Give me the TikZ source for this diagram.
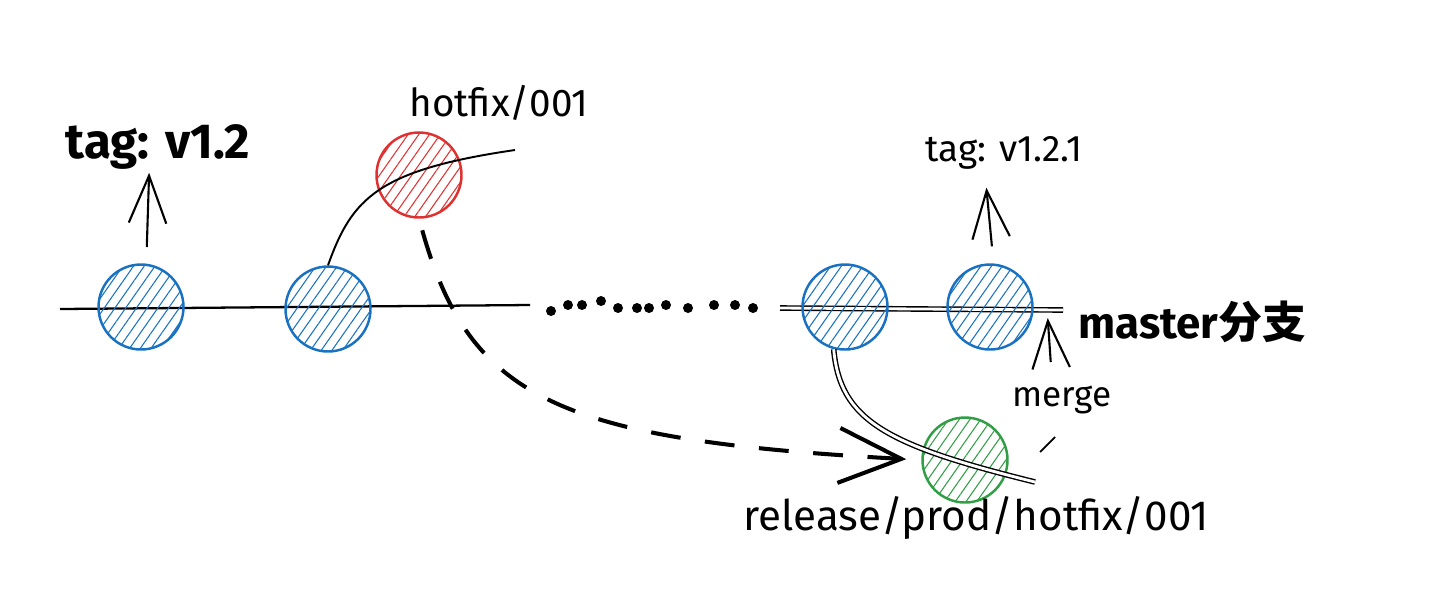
\documentclass[tikz,border=0pt]{standalone}
\usepackage{fontspec}
\setmainfont{Fira Sans}
\newfontfamily\cjkfont{Noto Sans CJK SC}
\usetikzlibrary{positioning,patterns.meta,arrows.meta}
\definecolor{commitblue}{HTML}{1971C2}
\definecolor{hotfixred}{HTML}{E03131}
\definecolor{mergegreen}{HTML}{2F9E44}
\tikzset{
    commit/.style={circle, draw=#1, line width=1.4pt, minimum size=1.7cm, inner sep=0pt,
        pattern={Lines[angle=55,distance=5pt,line width=0.6pt]}, pattern color=#1},
    branch/.style={line width=1.3pt},
    twin/.style={double, line width=0.8pt, double distance=1.6pt},
    tagarrow/.style={-{Straight Barb[length=0.95cm,width=0.75cm]}, line width=1.2pt},
    label/.style={inner sep=0pt, font=\fontsize{#1}{#1}\selectfont}
}
\begin{document}
\begin{tikzpicture}[x=0.02cm, y=-0.02cm]
    \useasboundingbox (0,0) rectangle (1432,610);
    \coordinate (mstart) at (60,309); \coordinate (mend) at (530,305);
    \coordinate (dstart) at (780,308); \coordinate (dend) at (1063,310);
    \coordinate (hend) at (515,150); \coordinate (rend) at (1035,482);

    \draw [branch] (mstart) -- (mend);
    \draw [twin] (dstart) -- (dend);
    \foreach \x/\y in {551/311, 568/305, 582/305, 601/301, 618/308, 637/308,
                       649/308, 666/305, 688/308, 714/305, 735/305, 753/308}
        \fill (\x,\y) circle (0.1cm);

    \node [commit=commitblue] (c1) at (141,307) {};
    \node [commit=commitblue] (c2) at (328,309) {};
    \node [commit=commitblue] (c3) at (845,307) {};
    \node [commit=commitblue] (c4) at (990,307) {};
    \node [commit=hotfixred] (hot) at (419,175) {};
    \node [commit=mergegreen] (rel) at (965,460) {};

    \node [label=28pt] (tagA) at (158,147) {\bfseries tag: v1.2};
    \node [label=21pt] (tagB) at (1004,153) {tag: v1.2.1};
    \node [label=22pt] (hotlbl) at (499,103) {hotfix/001};
    \node [label=25pt, anchor=west] (masterlbl) at (1078,322) {\bfseries master{\cjkfont 分支}};
    \node [label=20pt] (mergelbl) at (1062,400) {merge};
    \node [label=24pt] (rellbl) at (976,518) {release/prod/hotfix/001};

    \draw [tagarrow, shorten <=0.34cm, shorten >=0.06cm] ([xshift=3pt]c1.north) -- ([xshift=-5pt]tagA.south);
    \draw [tagarrow, shorten <=0.34cm, shorten >=0.36cm] ([xshift=2pt]c4.north) -- ([xshift=-11pt]tagB.south);
    \draw [tagarrow] ([xshift=0.34cm, yshift=-1.1cm]c4.east) -- ([xshift=0.28cm, yshift=-0.22cm]c4.east);

    \draw [branch, line width=1.1pt] (c2.north) .. controls (352,198) and (378,170) .. (hend);
    \draw [twin] (c3.-105) .. controls (840,420) and (885,445) .. (rend);
    \draw [line width=2.3pt, dash pattern=on 17pt off 14pt, shorten <=0.24cm, shorten >=0.3cm,
           -{Straight Barb[length=1.25cm,width=1.1cm]}]
        (hot.south) .. controls (470,400) and (560,440) .. (rel.west);
    \draw [line width=1pt] (1040,452) -- (1055,437);
\end{tikzpicture}
\end{document}
